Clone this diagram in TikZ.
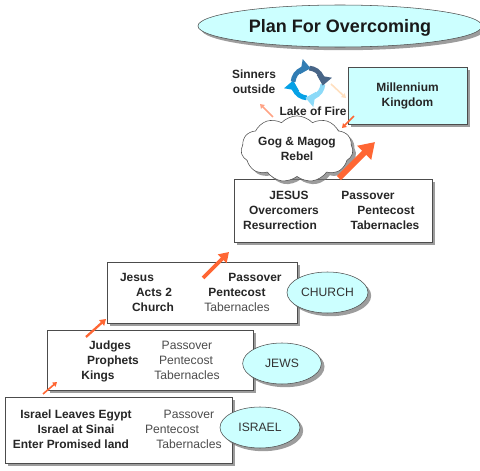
\documentclass[tikz,border=0pt]{standalone}
\usepackage{fontspec}
\setmainfont{Liberation Sans}
\usetikzlibrary{arrows.meta,shadows,shapes.geometric,shapes.symbols}
\definecolor{celeste}{RGB}{204,255,255}
\definecolor{naranja}{RGB}{255,102,51}

\begin{document}
\begin{tikzpicture}[
    x=0.75pt, y=-0.75pt,
    font=\fontsize{9.1pt}{11.25pt}\selectfont,
    txtb/.style={inner sep=0pt, font=\fontsize{8.95pt}{11.25pt}\selectfont\bfseries, text=black!85, align=center},
    linb/.style={txtb, text height=6.5pt, text depth=0pt},
    linr/.style={inner sep=0pt, text=black!70, text height=6.5pt, text depth=0pt},
    sombra/.style={drop shadow={shadow xshift=2.4pt, shadow yshift=-2.4pt, fill=black!55, opacity=0.7}},
    caja/.style={draw=black!70, fill=white, sombra, minimum width=#1},
    ovalo/.style={ellipse, draw=black!70, fill=celeste, sombra, inner sep=0pt, text=black!80},
    flecha/.style={-{Triangle[length=#1*2.6pt, width=#1*3.2pt]}, line width=#1, draw=naranja},
    giro/.style={-{Triangle[length=7pt, width=11pt]}, line width=3.6pt}
]

\useasboundingbox (0,0) rectangle (480,471);

% cajas, de abajo hacia arriba
\node[caja=170.25pt, minimum height=49.5pt] (israelbox) at (118.5,430) {};
\node[caja=154.5pt, minimum height=45pt]    (jewsbox)   at (150,360) {};
\node[caja=142.5pt, minimum height=45.75pt] (churchbox) at (202,292.5) {};
\node[caja=148.5pt, minimum height=47.25pt] (jesusbox)  at (333,210.5) {};
\node[caja=89.25pt, minimum height=42.75pt, fill=celeste, txtb] (kingdom) at (407.5,95.5) {Millennium\\Kingdom};

% ovalos
\node[ovalo, minimum width=60pt, minimum height=30.75pt] (israel) at (260,427.5) {ISRAEL};
\node[ovalo, minimum width=59pt, minimum height=30.75pt] (jews)   at (282,363.5) {JEWS};
\node[ovalo, minimum width=60.75pt, minimum height=30.75pt] (church) at (327.5,292.5) {CHURCH};
\node[ovalo, minimum width=213pt, minimum height=31.5pt, font=\fontsize{13.5pt}{16pt}\selectfont\bfseries, text=black!90,
      text height=9.7pt, text depth=0pt] (title) at (340,26) {Plan For Overcoming};

% nube
\node[cloud, cloud puffs=11, cloud puff arc=95, aspect=2, draw=black!70, fill=white, sombra,
      minimum width=84pt, minimum height=42pt, inner sep=0pt, txtb] (gog) at (297,149) {Gog \& Magog\\Rebel};

% textos de las cajas
\node[linb] (a1) at (76,414) {Israel Leaves Egypt};
\node[linb] (a2) at (76,429) {Israel at Sinai};
\node[linb] (a3) at (71,444) {Enter Promised land};
\node[linr] (a4) at (189,414) {Passover};
\node[linr] (a5) at (172,429) {Pentecost};
\node[linr] (a6) at (189,444) {Tabernacles};

\node[linb] (b1) at (110,345) {Judges};
\node[linb] (b2) at (113,360) {Prophets};
\node[linb] (b3) at (98,375) {Kings};
\node[linr] (b4) at (187,345) {Passover};
\node[linr] (b5) at (186,360) {Pentecost};
\node[linr] (b6) at (187,375) {Tabernacles};

\node[linb] (c1) at (137,277) {Jesus};
\node[linb] (c2) at (154,292) {Acts 2};
\node[linb] (c3) at (153,307) {Church};
\node[linb] (c4) at (255,277) {Passover};
\node[linb] (c5) at (237,292) {Pentecost};
\node[linr] (c6) at (237,307) {Tabernacles};

\node[linb] (d1) at (289,195) {JESUS};
\node[linb] (d2) at (284,210) {Overcomers};
\node[linb] (d3) at (280,225) {Resurrection};
\node[linb] (d4) at (368,195) {Passover};
\node[linb] (d5) at (386,210) {Pentecost};
\node[linb] (d6) at (385,225) {Tabernacles};

\node[txtb] (sinners) at (254,81.5) {Sinners\\outside};
\node[linb] (lake) at (313,111) {Lake of Fire};

% el ciclo
\coordinate (giro) at (308,83);
\draw[giro, draw=cyan!90!blue] ([shift={(95:15)}]giro) arc[start angle=95, end angle=190, radius=15];
\draw[giro, draw=cyan!45!white] ([shift={(5:15)}]giro) arc[start angle=5, end angle=100, radius=15];
\draw[giro, draw=cyan!60!blue!55!black] ([shift={(-85:15)}]giro) arc[start angle=-85, end angle=10, radius=15];
\draw[giro, draw=cyan!70!blue!80!black] ([shift={(-175:15)}]giro) arc[start angle=-175, end angle=-80, radius=15];

% flechas
\coordinate (s1) at (43,394);  \coordinate (e1) at (57,382);
\coordinate (s2) at (86,337);  \coordinate (e2) at (106,319);
\coordinate (s3) at (203,278); \coordinate (e3) at (229,252);
\coordinate (s4) at (339,178); \coordinate (e4) at (375,142);
\coordinate (s5) at (354,116); \coordinate (e5) at (342,128);
\coordinate (s6) at (273,117); \coordinate (e6) at (260,104);
\coordinate (s7) at (331,84);  \coordinate (e7) at (346,98);
\draw[flecha=1.2pt] (s1) -- (e1);
\draw[flecha=1.7pt] (s2) -- (e2);
\draw[flecha=2.8pt] (s3) -- (e3);
\draw[flecha=4.4pt] (s4) -- (e4);
\draw[flecha=1.2pt] (s5) -- (e5);
\draw[flecha=1.2pt, draw=naranja!60!white] (s6) -- (e6);
\draw[flecha=1.2pt, draw=orange!25!white] (s7) -- (e7);

\end{tikzpicture}
\end{document}
